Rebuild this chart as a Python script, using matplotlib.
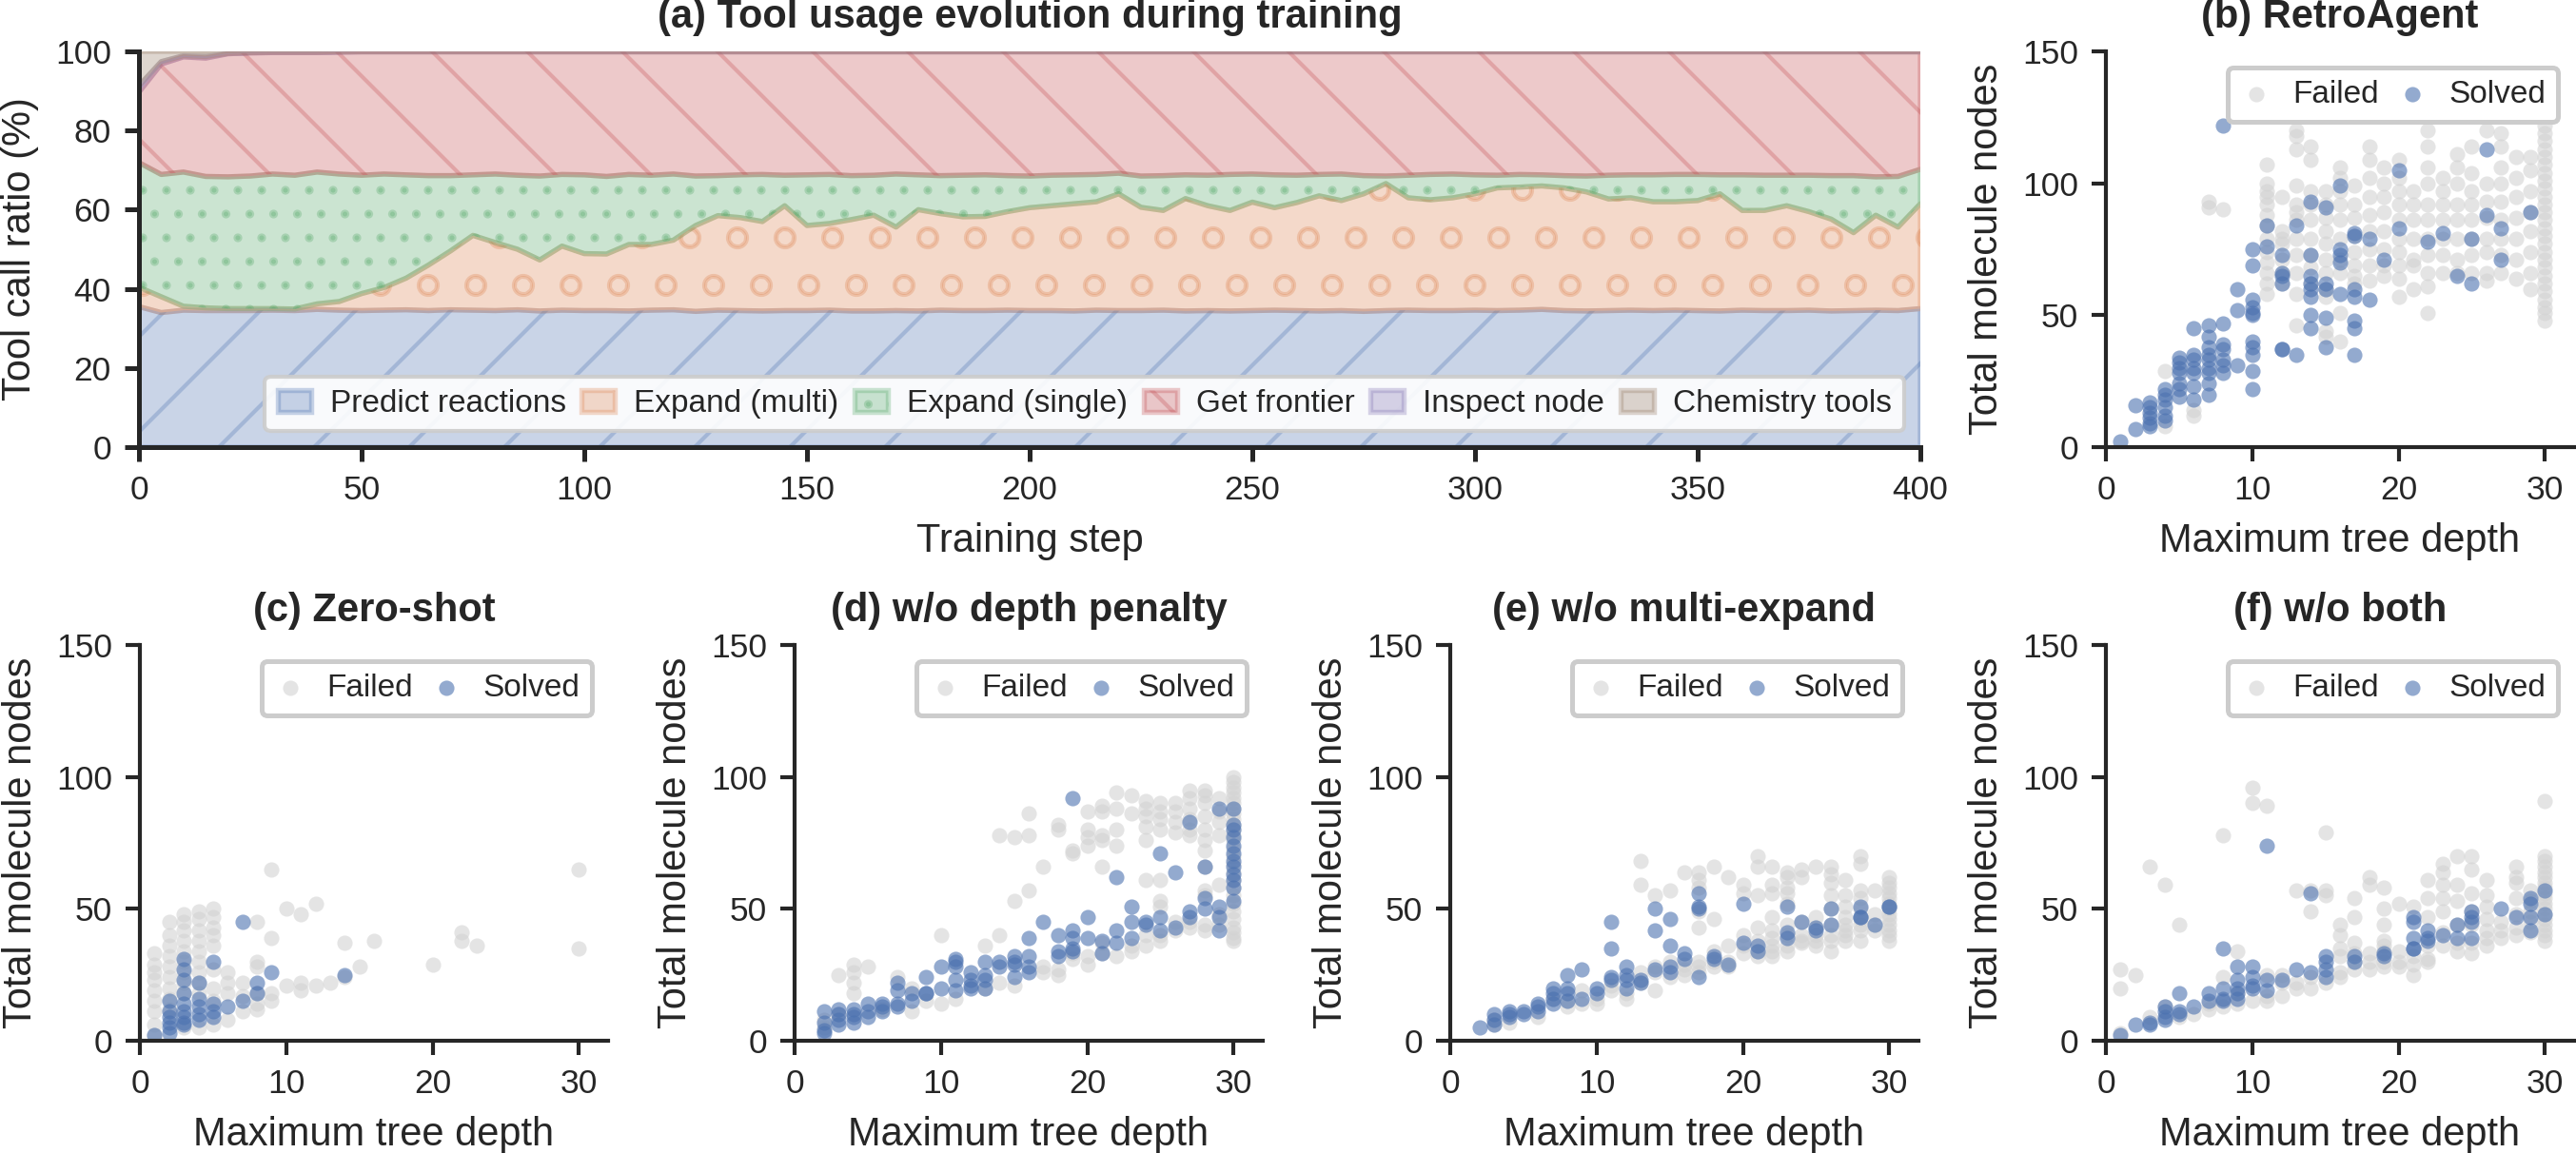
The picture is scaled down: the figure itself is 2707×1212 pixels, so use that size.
import numpy as np
import matplotlib
matplotlib.use("Agg")
import matplotlib.pyplot as plt
from matplotlib.colors import to_rgba

plt.rcParams['font.family'] = ['Liberation Sans', 'DejaVu Sans']
plt.rcParams['text.color'] = '#262626'
plt.rcParams['axes.labelcolor'] = '#262626'
plt.rcParams['xtick.color'] = '#262626'
plt.rcParams['ytick.color'] = '#262626'
plt.rcParams['axes.edgecolor'] = '#262626'

# ---------------- Panel (a) data: tool call ratio (%) every 5 training steps ----------------
steps = list(range(0, 405, 5))
tool_labels = ["Predict reactions", "Expand (multi)", "Expand (single)",
               "Get frontier", "Inspect node", "Chemistry tools"]
predict_reactions = [35.5, 34.0, 34.6, 34.5, 34.5, 34.5, 34.6, 34.5, 34.8, 34.6,
                     34.5, 34.6, 34.7, 34.5, 34.7, 34.6, 34.5, 34.7, 34.4, 34.6,
                     34.5, 34.5, 34.4, 34.6, 34.7, 34.3, 34.6, 34.5, 34.4, 34.5,
                     34.5, 34.6, 34.4, 34.4, 34.5, 34.4, 34.6, 34.5, 34.5, 34.6,
                     34.5, 34.5, 34.4, 34.6, 34.5, 34.5, 34.6, 34.4, 34.5, 34.4,
                     34.5, 34.6, 34.5, 34.4, 34.5, 34.3, 34.5, 34.6, 34.5, 34.5,
                     34.6, 34.5, 34.6, 34.8, 34.5, 34.4, 34.5, 34.6, 34.5, 34.6,
                     34.5, 34.4, 34.6, 34.5, 34.5, 34.6, 34.4, 34.5, 34.6, 34.5,
                     35.0]
expand_multi = [4.9, 4.0, 1.0, 0.7, 0.5, 0.5, 0.4, 0.4, 1.4, 2.2,
                4.3, 5.7, 8.0, 11.5, 14.9, 18.9, 17.2, 15.3, 12.9, 16.2,
                14.4, 14.3, 16.8, 16.6, 17.6, 21.7, 23.9, 23.5, 22.6, 26.5,
                21.5, 21.9, 23.1, 24.2, 21.1, 25.6, 24.4, 23.7, 23.8, 24.9,
                26.0, 26.5, 27.1, 27.4, 29.5, 26.1, 25.2, 28.4, 26.5, 25.4,
                27.4, 25.9, 27.3, 29.1, 27.8, 29.7, 32.1, 28.4, 28.0, 28.5,
                29.4, 31.0, 31.1, 31.2, 31.0, 30.1, 28.2, 28.4, 27.5, 27.4,
                27.8, 29.6, 25.2, 25.3, 26.5, 24.9, 23.2, 19.7, 24.0, 21.1,
                26.5]
expand_single = [31.5, 30.9, 33.9, 33.2, 33.3, 33.5, 34.0, 33.8, 33.3, 32.2,
                 29.9, 28.7, 26.1, 22.6, 19.0, 15.3, 17.3, 18.7, 21.2, 18.1,
                 19.9, 19.6, 17.7, 17.5, 16.7, 12.5, 10.1, 10.8, 11.9, 7.7,
                 12.8, 12.4, 11.1, 10.1, 13.4, 8.8, 9.6, 10.5, 10.5, 9.1,
                 8.0, 7.7, 7.3, 6.9, 5.2, 7.9, 8.8, 6.0, 7.7, 9.1,
                 7.1, 8.3, 6.9, 5.4, 6.7, 4.6, 1.9, 5.7, 6.4, 6.0,
                 4.8, 3.2, 3.2, 2.8, 3.1, 4.0, 6.0, 5.8, 6.8, 6.9,
                 6.6, 4.8, 9.0, 8.9, 7.7, 9.2, 11.0, 14.4, 9.7, 12.8,
                 8.7]
get_frontier = [17.8, 27.9, 29.1, 29.9, 31.1, 31.1, 30.7, 31.0, 30.2, 30.8,
                31.2, 30.9, 31.1, 31.3, 31.3, 31.1, 30.9, 31.2, 31.4, 31.0,
                31.1, 31.5, 31.0, 31.2, 30.9, 31.4, 31.3, 31.1, 31.0, 31.2,
                31.1, 31.0, 31.3, 31.2, 30.9, 31.1, 31.3, 31.2, 31.1, 31.3,
                31.4, 31.2, 31.1, 31.0, 30.7, 31.4, 31.3, 31.1, 31.2, 31.0,
                30.9, 31.1, 31.2, 31.0, 30.9, 31.3, 31.4, 31.2, 31.0, 30.9,
                31.1, 31.2, 31.0, 31.1, 31.3, 31.4, 31.2, 31.1, 31.1, 31.0,
                31.0, 31.1, 31.1, 31.2, 31.2, 31.2, 31.3, 31.3, 31.6, 31.5,
                29.7]
inspect_node = [1.6, 0.6, 0.3, 0.4, 0.1, 0.1, 0.1, 0.1, 0.1, 0.1,
                0.0, 0.0, 0.0, 0.0, 0.0, 0.0, 0.0, 0.0, 0.0, 0.0,
                0.0, 0.0, 0.0, 0.0, 0.0, 0.0, 0.0, 0.0, 0.0, 0.0,
                0.0, 0.0, 0.0, 0.0, 0.0, 0.0, 0.0, 0.0, 0.0, 0.0,
                0.0, 0.0, 0.0, 0.0, 0.0, 0.0, 0.0, 0.0, 0.0, 0.0,
                0.0, 0.0, 0.0, 0.0, 0.0, 0.0, 0.0, 0.0, 0.0, 0.0,
                0.0, 0.0, 0.0, 0.0, 0.0, 0.0, 0.0, 0.0, 0.0, 0.0,
                0.0, 0.0, 0.0, 0.0, 0.0, 0.0, 0.0, 0.0, 0.0, 0.0,
                0.0]
chemistry_tools = [8.7, 2.6, 1.1, 1.3, 0.5, 0.3, 0.2, 0.2, 0.2, 0.1,
                   0.1, 0.1, 0.1, 0.1, 0.1, 0.1, 0.1, 0.1, 0.1, 0.1,
                   0.1, 0.1, 0.1, 0.1, 0.1, 0.1, 0.1, 0.1, 0.1, 0.1,
                   0.1, 0.1, 0.1, 0.1, 0.1, 0.1, 0.1, 0.1, 0.1, 0.1,
                   0.1, 0.1, 0.1, 0.1, 0.1, 0.1, 0.1, 0.1, 0.1, 0.1,
                   0.1, 0.1, 0.1, 0.1, 0.1, 0.1, 0.1, 0.1, 0.1, 0.1,
                   0.1, 0.1, 0.1, 0.1, 0.1, 0.1, 0.1, 0.1, 0.1, 0.1,
                   0.1, 0.1, 0.1, 0.1, 0.1, 0.1, 0.1, 0.1, 0.1, 0.1,
                   0.1]

# ---------------- Scatter data: {max tree depth: [total molecule nodes, ...]} ----------------
b_failed = {4: [29, 8], 6: [14, 12], 7: [93, 91], 8: [90],
            11: [107, 100, 97, 95, 92, 88, 84, 79, 74, 70, 66, 62, 58],
            12: [95, 82, 79, 77, 71, 66, 62],
            13: [120, 118, 113, 99, 92, 89, 86, 79, 73, 66, 58, 46],
            14: [114, 109, 97, 92, 86, 79, 73, 68, 62],
            15: [97, 92, 87, 82, 77, 71, 66, 60, 57, 44, 42],
            16: [106, 102, 97, 92, 86, 79, 71, 66, 51, 40],
            17: [99, 92, 87, 80, 74, 69, 65, 62],
            18: [114, 109, 102, 95, 88, 82, 75, 69, 63],
            19: [106, 100, 95, 89, 82, 75, 69, 65],
            20: [109, 102, 97, 92, 86, 79, 74, 69, 64, 57],
            21: [97, 92, 86, 79, 71, 69, 60],
            22: [120, 114, 106, 100, 92, 86, 79, 73, 66, 61, 51],
            23: [102, 97, 92, 86, 79, 73, 66],
            24: [111, 106, 100, 92, 86, 79, 71, 66],
            25: [114, 104, 97, 92, 86, 79, 73, 66],
            26: [120, 100, 93, 87, 79, 74, 66, 63],
            27: [119, 114, 106, 100, 93, 86, 79, 73, 66],
            28: [110, 102, 95, 87, 79, 71, 64],
            29: [110, 105, 97, 89, 82, 74, 66, 60],
            30: [126, 122, 119, 116, 113, 110, 107, 104, 101, 98, 95, 92, 89, 86, 83, 80,
                 77, 74, 71, 68, 65, 62, 59, 56, 53, 51, 48]}
b_solved = {1: [2], 2: [16, 7], 3: [17, 15, 13, 11, 9, 8], 4: [22, 20, 18, 15, 12, 10],
            5: [34, 32, 30, 28, 24, 22, 19], 6: [45, 35, 33, 30, 28, 23, 18],
            7: [46, 42, 38, 35, 33, 30, 28, 24, 20], 8: [122, 47, 39, 37, 33, 31, 28],
            9: [60, 52, 31], 10: [75, 69, 56, 53, 51, 50, 40, 38, 35, 29, 22],
            11: [84, 76], 12: [73, 66, 65, 62, 37, 37], 13: [84, 35],
            14: [93, 73, 65, 62, 60, 57, 50, 45], 15: [91, 62, 60, 49, 38],
            16: [99, 75, 73, 70, 58], 17: [81, 80, 60, 57, 48, 45, 35], 18: [79, 56],
            19: [71], 20: [105, 83], 22: [78], 23: [81], 24: [65], 25: [79, 62],
            26: [113, 88], 27: [83, 71], 29: [89]}

c_failed = {1: [33, 29, 26, 23, 19, 15, 11, 6, 2], 2: [45, 40, 36, 32, 28, 24, 20, 16, 12],
            3: [48, 45, 42, 38, 34, 30, 26, 22, 18, 5], 4: [49, 46, 42, 38, 34, 30, 26, 22, 18, 5],
            5: [50, 47, 43, 40, 36, 27, 20, 15, 6], 6: [26, 22, 18, 8], 7: [22, 17, 11],
            8: [45, 30, 28, 18, 14, 12], 9: [65, 39, 18, 15], 10: [50, 21], 11: [48, 22, 19],
            12: [52, 21], 13: [22], 14: [37, 24], 15: [28], 16: [38], 20: [29],
            22: [41, 38], 23: [36], 30: [65, 35]}
c_solved = {1: [2], 2: [15, 11, 9, 7, 5, 3], 3: [31, 27, 23, 18, 14, 11, 9, 7, 6],
            4: [22, 16, 13, 10, 8], 5: [30, 14, 11, 9], 6: [13], 7: [45, 15], 8: [22, 18],
            9: [26], 14: [25]}

d_failed = {2: [8, 5], 3: [25, 10], 4: [29, 26, 22, 18], 5: [28], 6: [12], 7: [24], 8: [20, 11],
            9: [15], 10: [40, 14], 11: [16], 13: [36, 20], 14: [78, 40, 22], 15: [77, 53, 21],
            16: [86, 78, 57], 17: [66, 28, 26], 18: [82, 80, 27, 25], 19: [72, 71, 33, 31],
            20: [87, 80, 77, 74, 32, 29], 21: [89, 87, 78, 76, 66, 37, 33],
            22: [94, 88, 80, 74, 32], 23: [93, 86, 36, 34], 24: [91, 88, 85, 81, 76, 61, 40, 36],
            25: [90, 87, 84, 80, 61, 53, 51, 40, 38], 26: [90, 87, 83, 79, 45, 42],
            27: [95, 92, 88, 84, 80, 78, 45, 43],
            28: [95, 93, 90, 85, 80, 76, 72, 66, 57, 55, 44, 42],
            29: [92, 87, 83, 78, 59, 48, 44],
            30: [100, 98, 96, 94, 92, 90, 88, 86, 84, 82, 80, 78, 76, 73, 70, 67, 64, 61,
                 58, 55, 52, 49, 46, 43, 41, 39, 38]}
d_solved = {2: [11, 7, 4, 3], 3: [12, 10, 8, 6], 4: [12, 10, 9, 7], 5: [14, 11, 9],
            6: [14, 13, 11], 7: [22, 19, 14, 13], 8: [18, 15], 9: [24, 18, 18], 10: [28, 20],
            11: [31, 30, 28, 23, 19], 12: [26, 23, 21, 20], 13: [30, 25, 23, 20], 14: [30, 28],
            15: [32, 30, 29, 24], 16: [39, 32, 28, 26], 17: [45], 18: [40, 34, 32],
            19: [92, 42, 39, 35, 34], 20: [47, 39], 21: [38, 33], 22: [62, 42, 37],
            23: [51, 45, 39], 24: [45, 44], 25: [71, 47, 42], 26: [64, 43], 27: [83, 49, 47],
            28: [66, 54, 50], 29: [88, 51, 47, 42],
            30: [88, 82, 80, 77, 74, 71, 68, 66, 63, 61, 58, 53]}

e_failed = {3: [8, 6], 4: [7], 6: [9], 7: [16], 8: [15, 13], 9: [19, 14], 10: [16, 14],
            11: [21, 19], 12: [18, 16], 13: [68, 59, 26, 22], 14: [55, 28, 26, 19],
            15: [57, 30, 24], 16: [64, 29, 27, 25], 17: [64, 61, 58, 49, 43, 30, 28, 26],
            18: [66, 46, 34, 30, 28], 19: [62, 36, 30, 28], 20: [59, 56, 40, 36, 33],
            21: [70, 66, 55, 43, 38, 34, 32], 22: [66, 59, 56, 47, 42, 39, 36, 34, 32],
            23: [64, 62, 58, 56, 52, 44, 40, 36, 34], 24: [65, 62, 45, 40, 38, 37],
            25: [66, 47, 43, 40, 38, 36], 26: [66, 63, 60, 55, 50, 44, 40, 38, 34],
            27: [61, 55, 51, 47, 44, 42, 40, 38], 28: [70, 67, 57, 54, 50, 46, 44, 42, 38],
            29: [57, 48, 44, 42],
            30: [62, 60, 58, 56, 54, 52, 50, 48, 46, 44, 42, 40, 38]}
e_solved = {2: [5], 3: [10, 8, 6], 4: [11, 10, 9], 5: [11, 10], 6: [14, 13, 11],
            7: [20, 18, 16, 14], 8: [25, 20, 18, 15], 9: [27, 16], 10: [20, 18],
            11: [45, 35, 24, 23], 12: [28, 25, 23, 20], 13: [23, 22], 14: [50, 42, 27],
            15: [46, 36, 28, 26], 16: [33, 31], 17: [56, 51, 50, 24], 18: [32, 31], 19: [29],
            20: [52, 37], 21: [36, 34], 23: [51, 41, 39], 24: [45], 25: [43, 42], 26: [50, 44],
            28: [51, 47, 47], 29: [44], 30: [51, 51]}

f_failed = {1: [27, 20, 3], 2: [25], 3: [66, 9], 4: [59, 13], 5: [44, 9], 6: [10], 7: [14, 12],
            8: [78, 24, 13], 9: [34, 18, 14], 10: [96, 90, 15], 11: [89, 25, 17, 15],
            12: [25, 22, 17], 13: [57, 22, 20], 14: [57, 49, 24, 20], 15: [79, 57, 55, 22],
            16: [44, 40, 35, 32, 26, 24], 17: [54, 47, 37, 33, 30, 27], 18: [62, 59, 33, 30, 27],
            19: [58, 50, 44, 38, 36, 34, 30, 28], 20: [52, 34, 30, 28], 21: [51, 32, 29, 25],
            22: [61, 54, 47, 36, 31, 30], 23: [67, 64, 59, 54, 49, 41, 36],
            24: [70, 59, 53, 44, 37, 34], 25: [70, 65, 56, 49, 44, 37, 33],
            26: [61, 55, 51, 46, 42, 39, 36], 27: [45, 42, 39], 28: [66, 62, 60, 54, 48, 43, 40],
            29: [57, 53, 49, 45, 41],
            30: [91, 70, 68, 66, 64, 62, 60, 58, 56, 54, 52, 50, 48, 46, 44, 42, 40, 38]}
f_solved = {1: [2], 2: [6], 3: [7, 6], 4: [13, 11, 9, 8], 5: [18, 11, 10], 6: [13], 7: [18, 15],
            8: [35, 20, 16, 15], 9: [28, 23, 20, 18, 16], 10: [28, 24, 21, 20], 11: [74, 23, 19],
            12: [23], 13: [27], 14: [56, 26], 15: [32, 30, 27, 24], 17: [32, 30], 19: [33, 32],
            21: [47, 45, 39, 35, 35], 22: [42, 39, 38], 23: [40], 24: [44, 39],
            25: [49, 47, 45, 39], 27: [50], 28: [47], 29: [54, 52, 47, 42], 30: [57, 48]}

scatter_panels = [
    ("(b) RetroAgent", b_failed, b_solved),
    ("(c) Zero-shot", c_failed, c_solved),
    ("(d) w/o depth penalty", d_failed, d_solved),
    ("(e) w/o multi-expand", e_failed, e_solved),
    ("(f) w/o both", f_failed, f_solved),
]

# ---------------- styling ----------------
deep = ['#4C72B0', '#DD8452', '#55A868', '#C44E52', '#8172B3', '#937860']
hatches = ['/', 'o', '..', '\\', '', '']
FAIL_C = '#D3D3D3'
SOLV_C = '#4C72B0'
TITLE_FS = 10
LABEL_FS = 10
TICK_FS = 8.5
LEG_FS = 8

DPI = 300
W, H = 2707, 1212
fig = plt.figure(figsize=(W / DPI, H / DPI), dpi=DPI)

top_b, top_h = (H - 470) / H, 416 / H
bot_b, bot_h = (H - 1094) / H, 416 / H
sc_w = 492 / W

def style_axes(ax, lw):
    for s in ['top', 'right']:
        ax.spines[s].set_visible(False)
    for s in ['left', 'bottom']:
        ax.spines[s].set_linewidth(lw)
    ax.tick_params(direction='out', length=3.5, width=lw, labelsize=TICK_FS, pad=3.5)

# ---- panel (a)
ax_a = fig.add_axes([146 / W, top_b, (2018 - 146) / W, top_h])
polys = ax_a.stackplot(steps, predict_reactions, expand_multi, expand_single,
                       get_frontier, inspect_node, chemistry_tools,
                       labels=tool_labels, colors=deep)
for p, c, h in zip(polys, deep, hatches):
    p.set_facecolor(to_rgba(c, 0.3))
    p.set_edgecolor(to_rgba(c, 0.3))
    p.set_linewidth(1.3)
    p.set_hatch(h)
ax_a.set_xlim(0, 400)
ax_a.set_ylim(0, 100)
ax_a.set_xticks(range(0, 401, 50))
ax_a.set_yticks(range(0, 101, 20))
ax_a.set_xlabel("Training step", fontsize=LABEL_FS)
ax_a.set_ylabel("Tool call ratio (%)", fontsize=LABEL_FS)
ax_a.set_title("(a) Tool usage evolution during training", fontsize=TITLE_FS, fontweight='bold')
style_axes(ax_a, 1.2)
leg = ax_a.legend(loc='lower right', ncol=6, fontsize=LEG_FS, handlelength=1.05,
                  handletextpad=0.6, columnspacing=0.5, frameon=True, fancybox=True,
                  framealpha=0.9, edgecolor='#CCCCCC')
leg.get_frame().set_linewidth(1.0)

# ---- scatter panels
positions = [
    [2213 / W, top_b, sc_w, top_h],
    [147 / W, bot_b, sc_w, bot_h],
    [835 / W, bot_b, sc_w, bot_h],
    [1524 / W, bot_b, sc_w, bot_h],
    [2213 / W, bot_b, sc_w, bot_h],
]

def expand(d):
    xs, ys = [], []
    for depth, vals in d.items():
        for v in vals:
            xs.append(depth)
            ys.append(v)
    return xs, ys

for (title, failed, solved), pos in zip(scatter_panels, positions):
    ax = fig.add_axes(pos)
    fx, fy = expand(failed)
    sx, sy = expand(solved)
    ax.scatter(fx, fy, s=15, color=FAIL_C, alpha=0.6, linewidths=0, label='Failed')
    ax.scatter(sx, sy, s=15, color=SOLV_C, alpha=0.6, linewidths=0, label='Solved')
    ax.set_xlim(0, 32)
    ax.set_ylim(0, 150)
    ax.set_xticks([0, 10, 20, 30])
    ax.set_yticks([0, 50, 100, 150])
    ax.set_xlabel("Maximum tree depth", fontsize=LABEL_FS)
    ax.set_ylabel("Total molecule nodes", fontsize=LABEL_FS)
    ax.set_title(title, fontsize=TITLE_FS, fontweight='bold')
    style_axes(ax, 1.0)
    lg = ax.legend(loc='upper right', ncol=2, fontsize=LEG_FS, handlelength=1.0,
                   handletextpad=0.65, columnspacing=0.56, frameon=True, fancybox=True,
                   framealpha=1.0, edgecolor='#CCCCCC')
    lg.get_frame().set_linewidth(1.2)

fig.savefig("out.png", dpi=DPI)
